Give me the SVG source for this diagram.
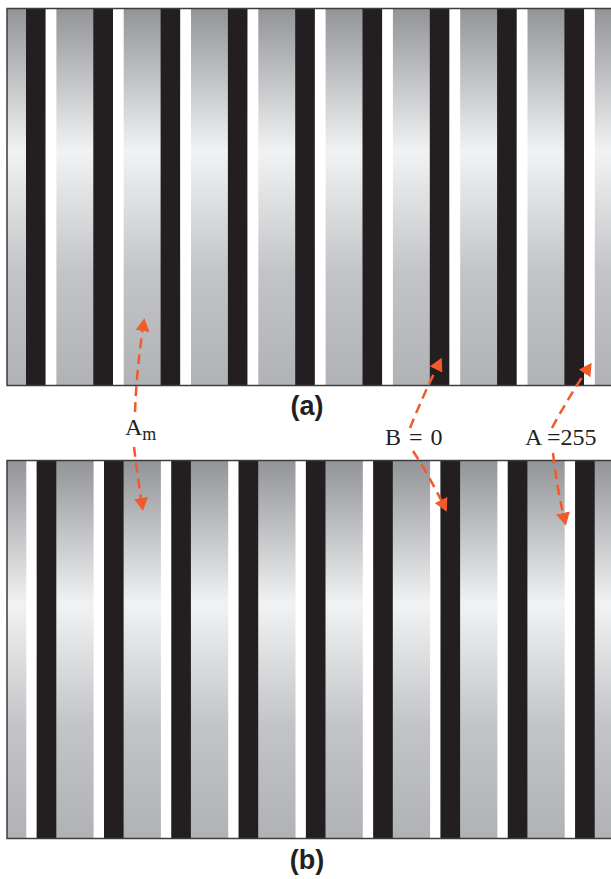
<svg xmlns="http://www.w3.org/2000/svg" width="611" height="879" viewBox="0 0 611 879">
  <style>
    .bg{fill:url(#grayGrad);}
    .frame{fill:none;stroke:#3d3d3f;stroke-width:1.5;}
    .blk{fill:#231f20;}
    .wht{fill:#ffffff;}
    .conn{fill:none;stroke:#f15a29;stroke-width:2.5;stroke-dasharray:10 6;marker-end:url(#arrow);}
    .lbl{font-family:"Liberation Serif","Times New Roman",serif;font-size:24px;fill:#231f20;}
    .cap{font-family:"Liberation Sans",Arial,sans-serif;font-weight:bold;font-size:27px;fill:#231f20;text-anchor:middle;}
  </style>
  <defs>
    <linearGradient id="grayGrad" x1="0" y1="0" x2="0" y2="1">
      <stop offset="0" stop-color="#939498"/>
      <stop offset="0.38" stop-color="#f1f2f3"/>
      <stop offset="0.7" stop-color="#c3c4c7"/>
      <stop offset="1" stop-color="#b1b2b6"/>
    </linearGradient>
    <marker id="arrow" markerUnits="userSpaceOnUse" markerWidth="14" markerHeight="14" viewBox="0 0 14 14" refX="0" refY="7" orient="auto">
      <path d="M0,0 L13,7 L0,14 Z" fill="#f15a29"/>
    </marker>
  </defs>

  <g id="panel-a">
    <rect class="bg" x="7" y="8.5" width="610" height="377"/>
    <rect class="blk" x="26" y="8.5" width="19.7" height="377"/>
    <rect class="blk" x="93.3" y="8.5" width="19.7" height="377"/>
    <rect class="blk" x="160.6" y="8.5" width="19.7" height="377"/>
    <rect class="blk" x="227.9" y="8.5" width="19.7" height="377"/>
    <rect class="blk" x="295.2" y="8.5" width="19.7" height="377"/>
    <rect class="blk" x="362.5" y="8.5" width="19.7" height="377"/>
    <rect class="blk" x="429.8" y="8.5" width="19.7" height="377"/>
    <rect class="blk" x="497.1" y="8.5" width="19.7" height="377"/>
    <rect class="blk" x="564.4" y="8.5" width="19.7" height="377"/>
    <rect class="wht" x="45.7" y="8.5" width="10.7" height="377"/>
    <rect class="wht" x="113" y="8.5" width="10.7" height="377"/>
    <rect class="wht" x="180.3" y="8.5" width="10.7" height="377"/>
    <rect class="wht" x="247.6" y="8.5" width="10.7" height="377"/>
    <rect class="wht" x="314.9" y="8.5" width="10.7" height="377"/>
    <rect class="wht" x="382.2" y="8.5" width="10.7" height="377"/>
    <rect class="wht" x="449.5" y="8.5" width="10.7" height="377"/>
    <rect class="wht" x="516.8" y="8.5" width="10.7" height="377"/>
    <rect class="wht" x="584.1" y="8.5" width="10.7" height="377"/>
    <rect class="frame" x="7" y="8.5" width="610" height="377"/>
  </g>

  <g id="panel-b">
    <rect class="bg" x="7" y="460.5" width="610" height="378"/>
    <rect class="wht" x="26.3" y="460.5" width="10.4" height="378"/>
    <rect class="wht" x="93.6" y="460.5" width="10.4" height="378"/>
    <rect class="wht" x="160.9" y="460.5" width="10.4" height="378"/>
    <rect class="wht" x="228.2" y="460.5" width="10.4" height="378"/>
    <rect class="wht" x="295.5" y="460.5" width="10.4" height="378"/>
    <rect class="wht" x="362.8" y="460.5" width="10.4" height="378"/>
    <rect class="wht" x="430.1" y="460.5" width="10.4" height="378"/>
    <rect class="wht" x="497.4" y="460.5" width="10.4" height="378"/>
    <rect class="wht" x="564.7" y="460.5" width="10.4" height="378"/>
    <rect class="blk" x="36.7" y="460.5" width="19.6" height="378"/>
    <rect class="blk" x="104" y="460.5" width="19.6" height="378"/>
    <rect class="blk" x="171.3" y="460.5" width="19.6" height="378"/>
    <rect class="blk" x="238.6" y="460.5" width="19.6" height="378"/>
    <rect class="blk" x="305.9" y="460.5" width="19.6" height="378"/>
    <rect class="blk" x="373.2" y="460.5" width="19.6" height="378"/>
    <rect class="blk" x="440.5" y="460.5" width="19.6" height="378"/>
    <rect class="blk" x="507.8" y="460.5" width="19.6" height="378"/>
    <rect class="blk" x="575.1" y="460.5" width="19.6" height="378"/>
    <rect class="frame" x="7" y="460.5" width="610" height="378"/>
  </g>

  <g id="connectors">
    <path class="conn" d="M135,412 Q136.5,372 142.5,331"/>
    <path class="conn" d="M134,447 Q137,472 141,498"/>
    <path class="conn" d="M410,428 Q422,398 436,369.5"/>
    <path class="conn" d="M413,451 Q428,474 441,500"/>
    <path class="conn" d="M552,428 Q567,400 584.5,373.5"/>
    <path class="conn" d="M553,453 Q557,487 563,513"/>
  </g>

  <g id="label-Am">
    <text class="lbl" x="125" y="434.5">A<tspan font-size="18" dy="5">m</tspan></text>
  </g>
  <g id="label-B0">
    <text class="lbl" x="385" y="445" word-spacing="2">B = 0</text>
  </g>
  <g id="label-A255">
    <text class="lbl" x="525" y="445">A =255</text>
  </g>
  <g id="caption-a">
    <text class="cap" x="307" y="415">(a)</text>
  </g>
  <g id="caption-b">
    <text class="cap" x="307" y="869">(b)</text>
  </g>
</svg>
